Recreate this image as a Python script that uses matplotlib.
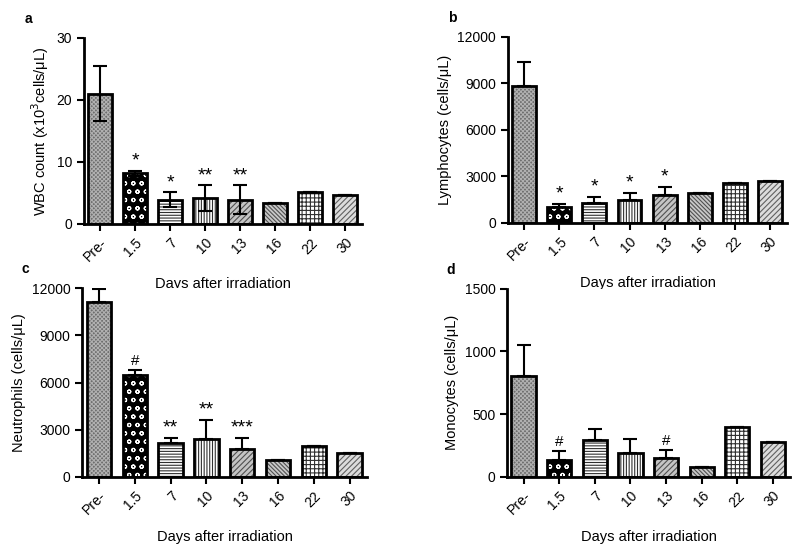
import matplotlib
matplotlib.use("Agg")
import matplotlib.pyplot as plt
import numpy as np

plt.rcParams['font.family'] = ['Liberation Sans', 'DejaVu Sans']
plt.rcParams['hatch.linewidth'] = 0.8

days = ["Pre-", "1.5", "7", "10", "13", "16", "22", "30"]

wbc = [21.0, 8.2, 3.9, 4.2, 3.9, 3.3, 5.1, 4.7]
wbc_err = [4.4, 0.4, 1.2, 2.1, 2.3, 0, 0, 0]
wbc_sig = ["", "*", "*", "**", "**", "", "", ""]

lymph = [8800, 1040, 1250, 1470, 1790, 1940, 2550, 2700]
lymph_err = [1580, 170, 430, 430, 540, 0, 0, 0]
lymph_sig = ["", "*", "*", "*", "*", "", "", ""]

neut = [11150, 6500, 2160, 2410, 1740, 1060, 1950, 1520]
neut_err = [800, 320, 320, 1190, 740, 0, 0, 0]
neut_sig = ["", "#", "**", "**", "***", "", "", ""]

mono = [803, 138, 293, 191, 152, 80, 399, 277]
mono_err = [247, 67, 90, 107, 66, 0, 0, 0]
mono_sig = ["", "#", "", "", "#", "", "", ""]

# bar looks: face colour, hatch, hatch colour
faces = ["#6e6e6e", "black", "white", "white", "#c4c4c4", "#c8c8c8", "white", "#dcdcdc"]
hatches = ["xxxxxxxx", "oo", "------", "||||||", "//////", "\\\\\\\\\\\\\\\\", "++++", "//////"]
hcols = ["#b0b0b0", "white", "#303030", "#303030", "#505050", "#505050", "#303030", "#606060"]


def panel(ax, vals, errs, sig, ymax, ticks, ylabel, letter, both, sig_off):
    x = np.arange(len(days))
    for i in range(len(days)):
        ax.bar(x[i], vals[i], width=0.68, color=faces[i], edgecolor=hcols[i],
               hatch=hatches[i], linewidth=0, zorder=2)
        ax.bar(x[i], vals[i], width=0.68, fill=False, edgecolor="black",
               linewidth=2, zorder=3)
    lower = [e if both else 0 for e in errs]
    ax.errorbar(x, vals, yerr=[lower, errs], fmt="none", ecolor="black",
                elinewidth=1.5, capsize=5, capthick=1.5, zorder=4)
    for i in range(len(days)):
        if sig[i]:
            star = sig[i] != "#"
            ax.text(x[i], vals[i] + errs[i] + sig_off, sig[i], ha="center",
                    va="bottom", fontsize=14 if star else 11)
    ax.set_xlim(-0.46, 7.49)
    ax.set_ylim(0, ymax)
    ax.set_yticks(ticks)
    ax.set_xticks(x)
    ax.set_xticklabels(days, rotation=45, ha="right", rotation_mode="anchor",
                       fontsize=10)
    ax.tick_params(axis="y", labelsize=10)
    ax.tick_params(width=1.5, length=5, direction="out")
    ax.spines["top"].set_visible(False)
    ax.spines["right"].set_visible(False)
    ax.spines["left"].set_linewidth(2)
    ax.spines["bottom"].set_linewidth(2)
    ax.set_ylabel(ylabel, fontsize=10.5)
    ax.set_xlabel("Days after irradiation", fontsize=10.5, labelpad=9)
    ax.text(-0.2, 1.08, letter, transform=ax.transAxes, fontsize=10,
            fontweight="bold", ha="center")


fig = plt.figure(figsize=(8, 5.5), dpi=100)
ax_a = fig.add_axes([0.105, 0.593, 0.348, 0.338])
ax_b = fig.add_axes([0.635, 0.595, 0.349, 0.338])
ax_c = fig.add_axes([0.103, 0.133, 0.356, 0.343])
ax_d = fig.add_axes([0.634, 0.133, 0.354, 0.342])

panel(ax_a, wbc, wbc_err, wbc_sig, 30, [0, 10, 20, 30],
      "WBC count (x10$^3$cells/μL)", "a", True, 0.1)
panel(ax_b, lymph, lymph_err, lymph_sig, 12000, [0, 3000, 6000, 9000, 12000],
      "Lymphocytes (cells/μL)", "b", False, 100)
panel(ax_c, neut, neut_err, neut_sig, 12000, [0, 3000, 6000, 9000, 12000],
      "Neutrophils (cells/μL)", "c", False, 100)
panel(ax_d, mono, mono_err, mono_sig, 1500, [0, 500, 1000, 1500],
      "Monocytes (cells/μL)", "d", False, 15)

fig.savefig("out.png", dpi=100)
